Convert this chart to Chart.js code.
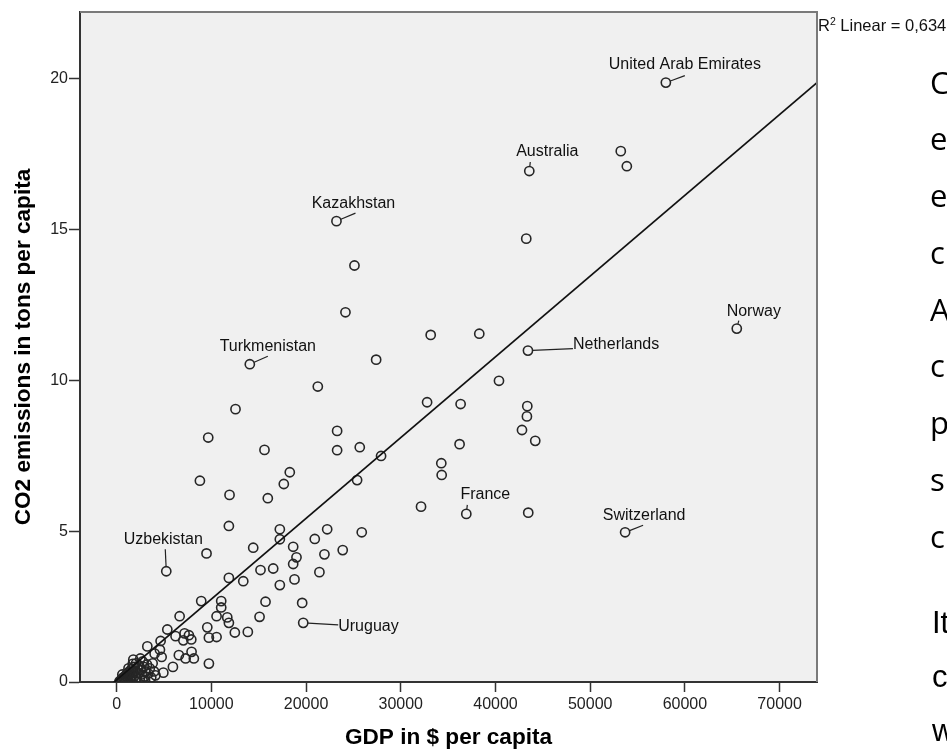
<!DOCTYPE html>
<html>
<head>
<meta charset="utf-8">
<script src="https://cdn.jsdelivr.net/npm/chart.js@4.4.1/dist/chart.umd.min.js"></script>
<style>
  body { margin: 0; background: #fff; overflow: hidden; }
  #wrap { position: relative; width: 947px; height: 750px; overflow: hidden; }
  #chart { position: absolute; left: 0; top: 0; }
  .side { position: absolute; left: 930px; font-size: 31px; line-height: 1; color: #000; white-space: nowrap; }
  .p1 { font-family: "Open Sans"; }
  .p2 { font-family: "Liberation Sans", Arial; left: 932px; }
</style>
</head>
<body>
<div id="wrap">
  <canvas id="chart" width="947" height="750"></canvas>
</div>
<script>
// axis ticks and ranges
const X_TICKS = [0, 10000, 20000, 30000, 40000, 50000, 60000, 70000];
const Y_TICKS = [0, 5, 10, 15, 20];
const X_MIN = -3870, X_MAX = 73950;
const Y_MIN = 0, Y_MAX = 22.2;

// countries with a label
const LABELED_COUNTRIES = ['United Arab Emirates', 'Australia', 'Kazakhstan', 'Norway', 'Netherlands',
                           'Turkmenistan', 'France', 'Switzerland', 'Uzbekistan', 'Uruguay'];
const LABELED_GDP = [57990, 43570, 23210, 65480, 43430, 14060, 36920, 53690, 5240, 19700];
const LABELED_CO2 = [19.86, 16.93, 15.27, 11.71, 10.98, 10.53, 5.57, 4.96, 3.67, 1.96];

// all the other countries (GDP $ per capita / CO2 tons per capita)
const GDP = [
  53230, 53870, 43250, 25110, 24160, 33160, 38290, 27400, 40370, 21240,
  32780, 36320, 43360, 43320, 42800, 44200, 36210, 23280, 23280, 25670,
  27920, 34280, 34320, 25390, 12550, 9670, 15610, 18280, 17650, 8790,
  11920, 15960, 32140, 43460, 22230, 20920, 25880, 23870, 21940, 21410,
  19590, 11850, 9490, 17230, 17230, 14420, 18640, 18990, 18640, 15190,
  16530, 11850, 13370, 18780, 17230, 15720, 8930, 11040, 11040, 6650,
  10550, 11680, 11850, 15090, 12480, 13850, 5350, 6220, 7170, 7630,
  7880, 7040, 9570, 9740, 10550, 4640, 3240, 4570, 4010, 4750,
  6570, 7280, 7910, 8150, 9740, 5940, 4930, 1760,
  450, 520, 600, 680, 750, 820, 900, 950, 1020, 1080,
  1150, 1200, 1280, 1350, 1400, 1480, 1550, 1600, 1680, 1750,
  1820, 1900, 1980, 2050, 2100, 2200, 2300, 2380, 2450, 2550,
  2650, 2750, 2850, 2950, 3050, 3200, 3350, 3500, 3650, 3800,
  3950, 4100, 1250, 1700, 2500, 600, 300, 1000, 2000, 3000
];
const CO2 = [
  17.59, 17.09, 14.69, 13.80, 12.25, 11.50, 11.54, 10.68, 9.98, 9.79,
  9.27, 9.21, 9.14, 8.80, 8.35, 7.99, 7.88, 8.32, 7.68, 7.78,
  7.49, 7.25, 6.86, 6.69, 9.04, 8.10, 7.69, 6.95, 6.56, 6.67,
  6.20, 6.09, 5.81, 5.61, 5.06, 4.74, 4.96, 4.37, 4.23, 3.64,
  2.62, 5.17, 4.26, 5.06, 4.73, 4.45, 4.48, 4.13, 3.91, 3.71,
  3.76, 3.45, 3.34, 3.40, 3.21, 2.66, 2.68, 2.68, 2.47, 2.18,
  2.18, 2.14, 1.96, 2.16, 1.64, 1.66, 1.74, 1.52, 1.61, 1.55,
  1.41, 1.38, 1.81, 1.47, 1.49, 1.36, 1.18, 1.07, 0.94, 0.83,
  0.89, 0.78, 1.00, 0.78, 0.61, 0.50, 0.31, 0.74,
  0.05, 0.10, 0.08, 0.15, 0.04, 0.12, 0.20, 0.09, 0.25, 0.14,
  0.30, 0.06, 0.22, 0.35, 0.11, 0.18, 0.42, 0.28, 0.08, 0.33,
  0.50, 0.20, 0.38, 0.62, 0.15, 0.45, 0.30, 0.55, 0.10, 0.40,
  0.25, 0.68, 0.50, 0.18, 0.35, 0.58, 0.28, 0.45, 0.15, 0.62,
  0.35, 0.22, 0.45, 0.60, 0.78, 0.25, 0.02, 0.02, 0.03, 0.05
];

// linear fit shown in the chart
const FIT_INTERCEPT = 0.07;
const FIT_SLOPE = 0.0002676;
const R2_TEXT = ' Linear = 0,634';

// text of the slide next to the chart (cut by the page edge)
const SIDE_LETTERS_1 = ['C', 'e', 'e', 'c', 'A', 'c', 'p', 's', 'c'];
const SIDE_LETTERS_2 = ['It', 'c', 'w'];

// where each label sits relative to its point (px): text centre, leader end
const LABEL_POS = {
  'United Arab Emirates': { tx: 19, ty: -18, align: 'center', lx: 19, ly: -7 },
  'Australia':    { tx: 18, ty: -19, align: 'center', lx: 1, ly: -9 },
  'Kazakhstan':   { tx: 17, ty: -18, align: 'center', lx: 19, ly: -8 },
  'Norway':       { tx: 17, ty: -17, align: 'center', lx: 2, ly: -8 },
  'Netherlands':  { tx: 45, ty: -6, align: 'left', lx: 45, ly: -2 },
  'Turkmenistan': { tx: 18, ty: -18, align: 'center', lx: 18, ly: -8 },
  'France':       { tx: 19, ty: -19, align: 'center', lx: 1, ly: -9 },
  'Switzerland':  { tx: 19, ty: -17, align: 'center', lx: 18, ly: -7 },
  'Uzbekistan':   { tx: -3, ty: -32, align: 'center', lx: -1, ly: -22 },
  'Uruguay':      { tx: 35, ty: 4, align: 'left', lx: 35, ly: 2 }
};

const FONT = 'Liberation Sans';

const points = GDP.map((g, i) => ({ x: g, y: CO2[i] }))
  .concat(LABELED_GDP.map((g, i) => ({ x: g, y: LABELED_CO2[i] })));

/* fondo gris del area del grafico */
const bgPlugin = {
  id: 'bg',
  beforeDraw(chart) {
    const { ctx, chartArea: a } = chart;
    ctx.save();
    ctx.fillStyle = '#f0f0f0';
    ctx.fillRect(a.left, a.top, a.right - a.left, a.bottom - a.top);
    ctx.restore();
  },
  afterDraw(chart) {
    const { ctx, chartArea: a } = chart;
    ctx.save();
    ctx.strokeStyle = '#7a7a7a';
    ctx.lineWidth = 2;
    ctx.beginPath();
    ctx.moveTo(a.left, a.top);
    ctx.lineTo(a.right, a.top);
    ctx.lineTo(a.right, a.bottom);
    ctx.stroke();
    // R2 note
    ctx.fillStyle = '#111';
    ctx.textBaseline = 'alphabetic';
    ctx.textAlign = 'left';
    let x = a.right + 1;
    const y = a.top + 19;
    ctx.font = '16.5px "' + FONT + '"';
    ctx.fillText('R', x, y);
    x += ctx.measureText('R').width;
    ctx.font = '10.5px "' + FONT + '"';
    ctx.fillText('2', x, y - 6.5);
    x += ctx.measureText('2').width;
    ctx.font = '16.5px "' + FONT + '"';
    ctx.fillText(R2_TEXT, x, y);
    ctx.restore();
  }
};

/* etiquetas de paises con su linea */
const labelPlugin = {
  id: 'labels',
  afterDatasetsDraw(chart) {
    const { ctx, scales: { x, y } } = chart;
    const r = 4.8;
    ctx.save();
    ctx.font = '16px "' + FONT + '"';
    ctx.fillStyle = '#111';
    ctx.strokeStyle = '#222';
    ctx.lineWidth = 1.2;
    ctx.textBaseline = 'middle';
    LABELED_COUNTRIES.forEach((name, i) => {
      const p = LABEL_POS[name];
      const px = x.getPixelForValue(LABELED_GDP[i]);
      const py = y.getPixelForValue(LABELED_CO2[i]);
      const len = Math.hypot(p.lx, p.ly);
      ctx.beginPath();
      ctx.moveTo(px + p.lx / len * r, py + p.ly / len * r);
      ctx.lineTo(px + p.lx, py + p.ly);
      ctx.stroke();
      ctx.textAlign = p.align;
      ctx.fillText(name, px + p.tx, py + p.ty);
    });
    ctx.restore();
  }
};

const tickFont = { family: FONT, size: 16 };
const titleFont = { family: FONT, size: 22.6, weight: 'bold', lineHeight: 1 };

new Chart(document.getElementById('chart'), {
  type: 'scatter',
  data: {
    datasets: [
      {
        type: 'line',
        data: [
          { x: X_MIN, y: FIT_INTERCEPT + FIT_SLOPE * X_MIN },
          { x: X_MAX, y: FIT_INTERCEPT + FIT_SLOPE * X_MAX }
        ],
        borderColor: '#111',
        borderWidth: 1.7,
        pointRadius: 0,
        fill: false
      },
      {
        data: points,
        pointStyle: 'circle',
        pointRadius: 4.6,
        borderWidth: 1.6,
        borderColor: '#262626',
        backgroundColor: 'rgba(0,0,0,0)'
      }
    ]
  },
  options: {
    responsive: false,
    animation: false,
    events: [],
    layout: { padding: { top: 12, right: 130, left: 0, bottom: 0 } },
    plugins: { legend: { display: false }, tooltip: { enabled: false } },
    scales: {
      x: {
        type: 'linear',
        min: X_MIN,
        max: X_MAX,
        afterBuildTicks: s => { s.ticks = X_TICKS.map(v => ({ value: v })); },
        afterFit: s => { s.height = 68; },
        grid: { drawOnChartArea: false, drawTicks: true, tickLength: 10, tickColor: '#333', tickWidth: 1.5 },
        border: { color: '#333', width: 2 },
        ticks: { font: tickFont, color: '#222', padding: 3, maxRotation: 0, autoSkip: false, callback: v => String(v) },
        title: { display: true, text: 'GDP in $ per capita', font: titleFont, color: '#000', padding: { top: 0, bottom: 0.7 } }
      },
      y: {
        type: 'linear',
        min: Y_MIN,
        max: Y_MAX,
        afterBuildTicks: s => { s.ticks = Y_TICKS.map(v => ({ value: v })); },
        afterFit: s => { s.width = 80; },
        grid: { drawOnChartArea: false, drawTicks: true, tickLength: 11, tickColor: '#333', tickWidth: 1.5 },
        border: { color: '#333', width: 2 },
        ticks: { font: tickFont, color: '#222', padding: 1, autoSkip: false, callback: v => String(v) },
        title: { display: true, text: 'CO2 emissions in tons per capita', font: titleFont, color: '#000', padding: { top: 12.8, bottom: 0 } }
      }
    }
  },
  plugins: [bgPlugin, labelPlugin]
});

// texto lateral de la diapositiva
const wrap = document.getElementById('wrap');
SIDE_LETTERS_1.forEach((t, i) => {
  const d = document.createElement('div');
  d.className = 'side p1';
  d.textContent = t;
  d.style.top = (94 + 56.75 * i - 27.5) + 'px';
  wrap.appendChild(d);
});
SIDE_LETTERS_2.forEach((t, i) => {
  const d = document.createElement('div');
  d.className = 'side p2';
  d.textContent = t;
  d.style.top = (633 + 54 * i - 26.2) + 'px';
  wrap.appendChild(d);
});
</script>
</body>
</html>
